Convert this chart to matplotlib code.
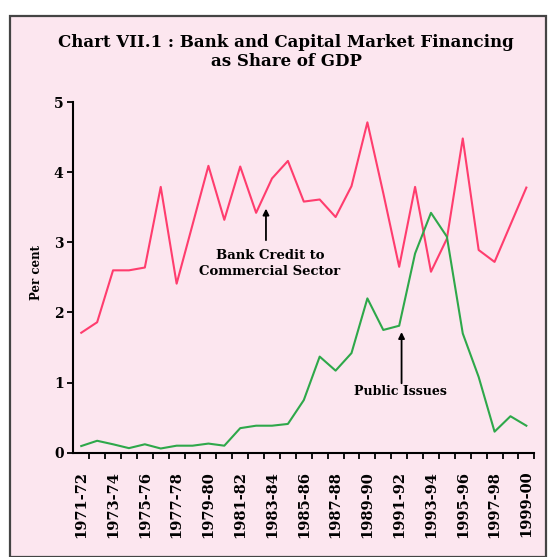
import matplotlib
matplotlib.use("Agg")
import matplotlib.pyplot as plt
from matplotlib.patches import Rectangle

# ── Data (per cent of GDP) ────────────────────────────────────────────────────
years = ["1971-72", "1972-73", "1973-74", "1974-75", "1975-76", "1976-77",
         "1977-78", "1978-79", "1979-80", "1980-81", "1981-82", "1982-83",
         "1983-84", "1984-85", "1985-86", "1986-87", "1987-88", "1988-89",
         "1989-90", "1990-91", "1991-92", "1992-93", "1993-94", "1994-95",
         "1995-96", "1996-97", "1997-98", "1998-99", "1999-00"]
bank_credit = [1.71, 1.86, 2.60, 2.60, 2.64, 3.79, 2.41, 3.25, 4.09, 3.32,
               4.08, 3.42, 3.91, 4.16, 3.58, 3.61, 3.36, 3.80, 4.71, 3.70,
               2.65, 3.79, 2.58, 3.05, 4.48, 2.89, 2.72, 3.25, 3.78]
public_issues = [0.095, 0.17, 0.12, 0.065, 0.12, 0.06, 0.10, 0.10, 0.13, 0.10,
                 0.35, 0.385, 0.385, 0.41, 0.75, 1.37, 1.17, 1.42, 2.20, 1.75,
                 1.81, 2.84, 3.42, 3.08, 1.70, 1.08, 0.30, 0.52, 0.385]

PINK = "#fce6ef"
RED = "#ff3d6e"
GREEN = "#2ea84a"
FONT = "DejaVu Serif"

W, H = 549, 557
fig = plt.figure(figsize=(W / 100, H / 100), dpi=100)
fig.patch.set_facecolor("white")

# outer chart frame with pink background
frame = Rectangle((10 / W, 0), (546 - 10) / W, (H - 16) / H,
                  transform=fig.transFigure, facecolor=PINK,
                  edgecolor="#444444", lw=1.6, zorder=-5)
fig.patches.append(frame)

ax = fig.add_axes([73.3 / W, (H - 452.7) / H, 461 / W, 350.7 / H])
ax.set_facecolor("none")
ax.set_zorder(2)

x = list(range(len(years)))
ax.plot(x, bank_credit, color=RED, lw=1.5, zorder=3)
ax.plot(x, public_issues, color=GREEN, lw=1.5, zorder=3)

ax.set_xlim(-0.5, len(years) - 0.5)
ax.set_ylim(0, 5)

for s in ("top", "right"):
    ax.spines[s].set_visible(False)
for s in ("left", "bottom"):
    ax.spines[s].set_linewidth(1.5)

# x: ticks between categories, labels every second year
ax.set_xticks([i + 0.5 for i in x])
ax.set_xticklabels([])
ax.tick_params(axis="x", which="major", length=4, width=1.3, direction="out")
ax.set_xticks(x[::2], minor=True)
ax.set_xticklabels(years[::2], minor=True, rotation=90, fontsize=10.5,
                   fontfamily=FONT, fontweight="bold")
ax.tick_params(axis="x", which="minor", length=0, pad=13)

ax.set_yticks(range(6))
ax.set_yticklabels([str(v) for v in range(6)], fontsize=10,
                   fontfamily=FONT, fontweight="bold")
ax.tick_params(axis="y", length=4, width=1.3, pad=3)

fig.text(36.7 / W, 1 - 273 / H, "Per cent", rotation=90, ha="center",
         va="center", fontsize=8.5, fontfamily=FONT, fontweight="bold")

fig.text(286 / W, 1 - 52 / H,
         "Chart VII.1 : Bank and Capital Market Financing\nas Share of GDP",
         ha="center", va="center", fontsize=12, fontfamily=FONT,
         fontweight="bold", linespacing=1.1)

# annotations
arrow = dict(arrowstyle="-|>", color="black", lw=1.3, mutation_scale=9,
             shrinkA=0, shrinkB=0)
ax.annotate("", xy=(11.62, 3.48), xytext=(11.62, 3.03), arrowprops=arrow)
ax.text(11.87, 2.70, "Bank Credit to\nCommercial Sector", ha="center",
        va="center", fontsize=9.5, fontfamily=FONT, fontweight="bold",
        linespacing=1.25)
ax.annotate("", xy=(20.15, 1.72), xytext=(20.15, 0.99), arrowprops=arrow)
ax.text(20.1, 0.87, "Public Issues", ha="center", va="center", fontsize=9,
        fontfamily=FONT, fontweight="bold")

fig.savefig("out.png", dpi=100, facecolor=fig.get_facecolor())
